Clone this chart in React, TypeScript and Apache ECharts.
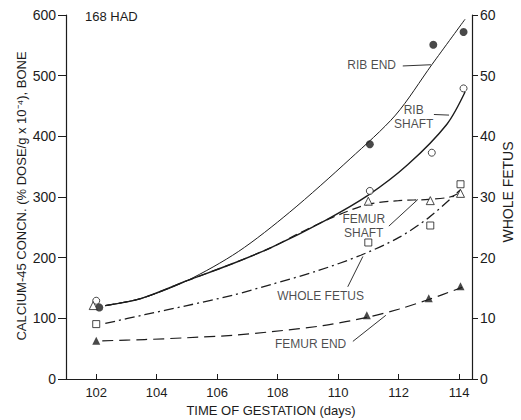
import React, { useEffect, useRef } from "react";
import * as echarts from "echarts";

// ---- data (days of gestation, Ca-45 concentration) ----
const dayTicks = [102, 104, 106, 108, 110, 112, 114];

// measured points
const ribEndPoints = [[102.1, 118], [111.05, 387], [113.15, 551], [114.15, 572]];
const ribShaftPoints = [[102.0, 129], [111.05, 310], [113.1, 373], [114.15, 479]];
const femurShaftPoints = [[101.9, 121], [111.0, 293], [113.05, 294], [114.05, 306]];
const wholeFetusPoints = [[102.0, 9.05], [111.0, 22.5], [113.05, 25.3], [114.05, 32.1]]; // right axis
const femurEndPoints = [[102.0, 63], [110.95, 105], [113.0, 133], [114.05, 153]];

// hand-drawn fitted curves
const ribEndCurve = [[102.3, 121], [103.5, 133], [105.0, 162], [106.7, 210], [108.4, 275], [110.4, 363], [111.9, 435], [113.1, 518], [114.2, 593]];
const ribShaftCurve = [[102.3, 121], [103.5, 133], [105.0, 162], [106.5, 190], [107.8, 217], [109.6, 262], [111.0, 303], [112.3, 353], [113.6, 420], [114.2, 473]];
const femurShaftCurve = [[102.3, 121], [103.5, 133], [105.0, 162], [106.5, 190], [107.8, 217], [108.7, 240], [109.8, 266], [111.0, 288], [112.0, 294], [113.0, 296], [113.7, 300], [114.05, 308]];
const wholeFetusCurve = [[102.3, 9.15], [103.6, 10.6], [105.0, 12.1], [106.5, 13.8], [107.8, 15.6], [109.3, 17.8], [110.75, 20.4], [112.0, 23.3], [113.0, 26.6], [114.05, 31.2]]; // right axis
const femurEndCurve = [[102.2, 63], [103.6, 65], [105.0, 68], [106.5, 72], [107.8, 78], [109.5, 88], [111.0, 102], [112.0, 115], [113.0, 131], [114.1, 151]];

// annotations (data coordinates, left axis)
const annotationLabels = [
  { name: "RIB END", value: [111.11, 518] },
  { name: "RIB\nSHAFT", value: [112.5, 432] },
  { name: "FEMUR\nSHAFT", value: [110.85, 252] },
  { name: "WHOLE FETUS", value: [109.42, 137] },
  { name: "FEMUR END", value: [109.09, 58] },
];
const annotationArrows = [
  [[112.14, 516], [113.07, 518]],
  [[113.17, 436], [113.67, 435]],
  [[111.68, 252], [112.64, 296]],
  [[110.32, 152], [110.82, 202]],
  [[110.49, 62], [111.58, 105]],
];

const INK = "#1c1c1c";
const FONT = "Liberation Sans";

export default function App() {
  const ref = useRef<HTMLDivElement>(null);

  useEffect(() => {
    if (!ref.current) return;
    const chart = echarts.init(ref.current, undefined, { renderer: "svg" });

    const curve = (name: string, data: number[][], yAxisIndex: number, type: any, width: number) => ({
      name,
      type: "line",
      data,
      yAxisIndex,
      smooth: 0.3,
      showSymbol: false,
      symbol: "none",
      silent: true,
      lineStyle: { color: INK, width, type },
      z: 2,
    });

    const pts = (name: string, data: number[][], yAxisIndex: number, symbol: string, size: number, filled: boolean) => ({
      name,
      type: "scatter",
      data,
      yAxisIndex,
      symbol,
      symbolSize: size,
      silent: true,
      itemStyle: { color: filled ? INK : "#ffffff", borderColor: INK, borderWidth: filled ? 0 : 1 },
      z: 4,
    });

    chart.setOption({
      animation: false,
      title: {
        text: "168 HAD",
        left: 85,
        top: 10,
        padding: 0,
        textStyle: { fontFamily: FONT, fontSize: 13, fontWeight: "normal", color: INK },
      },
      grid: { left: 66, right: 49, top: 15, bottom: 41, outerBoundsMode: "none" },
      xAxis: {
        type: "value",
        min: 101,
        max: 114.43,
        axisLine: { show: true, lineStyle: { color: INK, width: 1.2 } },
        axisTick: { show: true, inside: true, length: 5, customValues: dayTicks, lineStyle: { color: INK } },
        axisLabel: { customValues: dayTicks, margin: 7, fontFamily: FONT, fontSize: 13, color: INK },
        splitLine: { show: false },
      },
      yAxis: [
        {
          type: "value",
          position: "left",
          min: 0,
          max: 600,
          interval: 100,
          axisLine: { show: true, lineStyle: { color: INK, width: 1.2 } },
          axisTick: { show: true, inside: false, length: 8, lineStyle: { color: INK } },
          axisLabel: { margin: 10, fontFamily: FONT, fontSize: 14, color: INK },
          splitLine: { show: false },
        },
        {
          type: "value",
          position: "right",
          min: 0,
          max: 60,
          interval: 10,
          axisLine: { show: true, lineStyle: { color: INK, width: 1.2 } },
          axisTick: { show: true, inside: false, length: 6, lineStyle: { color: INK } },
          axisLabel: { margin: 8, fontFamily: FONT, fontSize: 14, color: INK },
          splitLine: { show: false },
        },
      ],
      graphic: [
        {
          type: "text",
          x: 21,
          y: 196,
          rotation: Math.PI / 2,
          style: {
            text: "CALCIUM-45 CONCN. (% DOSE/g x 10\u207B\u2074), BONE",
            fontFamily: FONT,
            fontSize: 13,
            fill: INK,
            align: "center",
            verticalAlign: "middle",
          },
        },
        {
          type: "text",
          x: 508,
          y: 192,
          rotation: Math.PI / 2,
          style: {
            text: "WHOLE FETUS",
            fontFamily: FONT,
            fontSize: 14,
            fill: INK,
            align: "center",
            verticalAlign: "middle",
          },
        },
        {
          type: "text",
          x: 271,
          y: 410,
          style: {
            text: "TIME OF GESTATION (days)",
            fontFamily: FONT,
            fontSize: 13,
            fill: INK,
            align: "center",
            verticalAlign: "middle",
          },
        },
      ],
      series: [
        curve("Rib end curve", ribEndCurve, 0, "solid", 1.0),
        curve("Rib shaft curve", ribShaftCurve, 0, "solid", 1.4),
        curve("Femur shaft curve", femurShaftCurve, 0, [9, 5], 1.2),
        curve("Whole fetus curve", wholeFetusCurve, 1, [10, 4, 2, 4], 1.3),
        curve("Femur end curve", femurEndCurve, 0, [11, 6], 1.2),
        pts("Rib end", ribEndPoints, 0, "circle", 8, true),
        pts("Rib shaft", ribShaftPoints, 0, "circle", 7, false),
        pts("Femur shaft", femurShaftPoints, 0, "triangle", 8, false),
        pts("Whole fetus", wholeFetusPoints, 1, "rect", 7, false),
        pts("Femur end", femurEndPoints, 0, "triangle", 8, true),
        {
          name: "annotations",
          type: "scatter",
          yAxisIndex: 0,
          data: annotationLabels,
          symbol: "circle",
          symbolSize: 1,
          silent: true,
          itemStyle: { color: "rgba(0,0,0,0)" },
          label: {
            show: true,
            position: "inside",
            formatter: "{b}",
            fontFamily: FONT,
            fontSize: 12,
            lineHeight: 14,
            color: INK,
            align: "center",
            verticalAlign: "middle",
          },
          markLine: {
            silent: true,
            animation: false,
            symbol: ["none", "arrow"],
            symbolSize: [0, 6],
            label: { show: false },
            lineStyle: { color: INK, width: 0.9, type: "solid" },
            data: annotationArrows.map(([a, b]) => [{ coord: a }, { coord: b }]),
          },
          z: 5,
        },
      ],
    });

    return () => chart.dispose();
  }, []);

  return <div ref={ref} style={{ position: "fixed", left: 0, top: 0, width: 521, height: 420, background: "#fff" }} />;
}
